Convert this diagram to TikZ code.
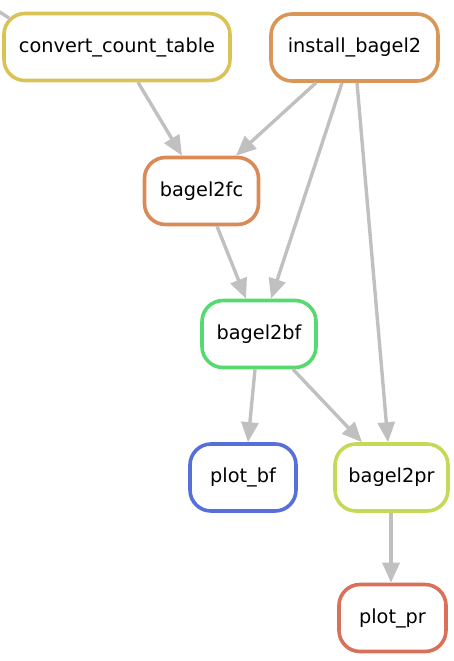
\documentclass[tikz,border=0pt]{standalone}
\usepackage{fontspec}
\setmainfont{DejaVu Sans}
\usetikzlibrary{arrows.meta,calc}
\definecolor{cyellow}{RGB}{217,195,87}
\definecolor{corange}{RGB}{217,150,87}
\definecolor{cfc}{RGB}{217,138,87}
\definecolor{cgreen}{RGB}{87,217,113}
\definecolor{cblue}{RGB}{87,112,217}
\definecolor{cyg}{RGB}{197,217,87}
\definecolor{cred}{RGB}{217,112,87}
\definecolor{edgegray}{RGB}{192,192,192}
\begin{document}
\begin{tikzpicture}[x=1pt,y=-1pt,
  box/.style={draw,rounded corners=21pt,line width=3.6pt,fill=white,inner sep=0pt,
    minimum height=67pt,font=\fontsize{19.3}{23}\selectfont},
  edgeline/.style={draw=edgegray,line width=3.4pt},
  edge/.style={edgeline,-{Triangle[length=20pt,width=17pt]}}]
\useasboundingbox (0,0) rectangle (453,661);
\node[box,draw=cyellow,minimum width=226pt] (cct) at (117,47) {convert\_count\_table};
\node[box,draw=corange,minimum width=167pt] (ib) at (354.5,47.5) {install\_bagel2};
\node[box,draw=cfc,minimum width=114pt] (fc) at (201.5,191) {bagel2fc};
\node[box,draw=cgreen,minimum width=114pt] (bf) at (259,334) {bagel2bf};
\node[box,draw=cblue,minimum width=106pt] (pbf) at (243,477.5) {plot\_bf};
\node[box,draw=cyg,minimum width=113pt] (pr) at (391.5,477.5) {bagel2pr};
\node[box,draw=cred,minimum width=107pt] (ppr) at (392.5,618) {plot\_pr};
\coordinate (off) at (-2,11);
\coordinate (offend) at (9,18);
\draw[edgeline] (off) -- (offend);
\draw[edge] (cct.south -| 138,0) -- (fc.north -| 182,0);
\draw[edge] (ib.south -| 316,0) -- (fc.north -| 236,0);
\draw[edge] (ib.south -| 342,0) -- (bf.north -| 271,0);
\draw[edge] (ib.south -| 357,0) -- (pr.north -| 388,0);
\draw[edge] (fc.south -| 217,0) -- (bf.north -| 246,0);
\draw[edge] (bf.south -| 255,0) -- (pbf.north -| 248,0);
\draw[edge] (bf.south -| 293,0) -- (pr.north -| 362,0);
\draw[edge] (pr.south -| 391,0) -- (ppr.north -| 391,0);
\end{tikzpicture}
\end{document}
